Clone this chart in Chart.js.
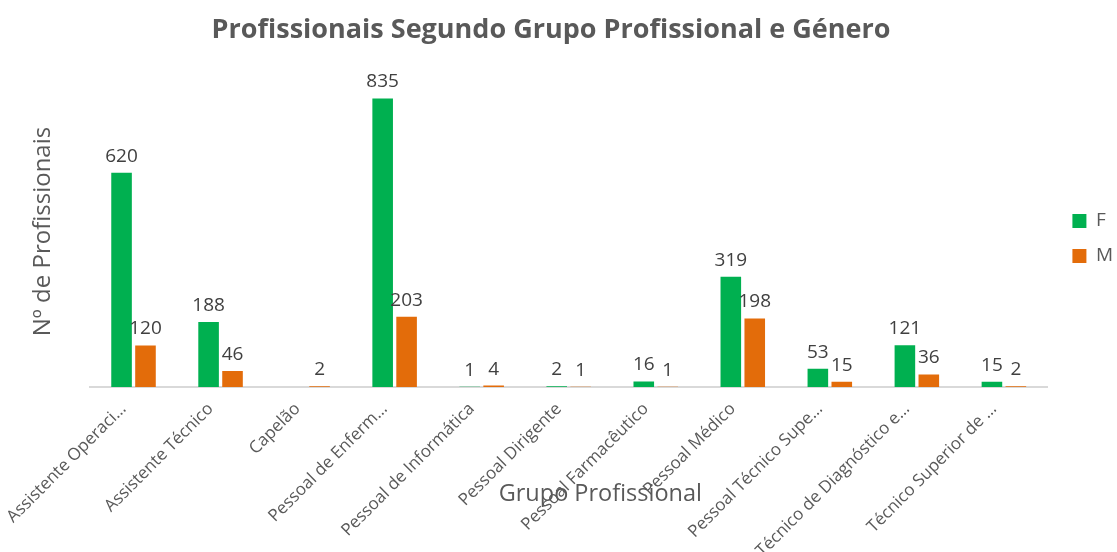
<!DOCTYPE html>
<html>
<head>
<meta charset="utf-8">
<script src="https://cdn.jsdelivr.net/npm/chart.js@4/dist/chart.umd.min.js"></script>
<style>
html,body{margin:0;padding:0;background:#fff;}
#wrap{width:1117px;height:552px;}
</style>
</head>
<body>
<div id="wrap"><canvas id="c" width="1117" height="552"></canvas></div>
<script>
const categories = ["Assistente Operaci…","Assistente Técnico","Capelão","Pessoal de Enferm…","Pessoal de Informática","Pessoal Dirigente","Pessoal Farmacêutico","Pessoal Médico","Pessoal Técnico Supe…","Técnico de Diagnóstico e…","Técnico Superior de …"];
const valuesF = [620,188,null,835,1,2,16,319,53,121,15];
const valuesM = [120,46,2,203,4,1,1,198,15,36,2];
const seriesNames = ["F","M"];
const yMax = 900;
const chartTitle = "Profissionais Segundo Grupo Profissional e Género";
const xAxisTitle = "Grupo Profissional";
const yAxisTitle = "Nº de Profissionais";

const FONT = "'Open Sans', 'DejaVu Sans', sans-serif";
const GREY = "#595959";

const dataLabels = {
  id: 'dataLabels',
  afterDatasetsDraw(chart){
    const ctx = chart.ctx;
    ctx.save();
    ctx.font = "19px " + FONT;
    ctx.fillStyle = "#404040";
    ctx.textAlign = "center";
    ctx.textBaseline = "bottom";
    chart.data.datasets.forEach((ds, i) => {
      const meta = chart.getDatasetMeta(i);
      meta.data.forEach((bar, j) => {
        const v = ds.data[j];
        if (v === null || v === undefined) return;
        ctx.fillText(String(v), bar.x, bar.y - 7);
      });
    });
    ctx.restore();
  }
};

const texts = {
  id: 'texts',
  afterDraw(chart){
    const ctx = chart.ctx;
    const ca = chart.chartArea;
    ctx.save();
    ctx.fillStyle = GREY;
    ctx.textAlign = "center";
    ctx.textBaseline = "middle";
    ctx.font = "bold 27px " + FONT;
    ctx.fillText(chartTitle, 551, 30);
    ctx.font = "23.5px " + FONT;
    ctx.fillText(xAxisTitle, ca.left + (ca.right - ca.left) * 0.533, 494);
    ctx.restore();
  }
};

const legendShift = {
  id: 'legendShift',
  afterLayout(chart){
    const lg = chart.legend;
    if (!lg) return;
    lg.left += 9; lg.right += 9;
    lg.top += 7; lg.bottom += 7;
  }
};

new Chart(document.getElementById('c'), {
  type: 'bar',
  data: {
    labels: categories,
    datasets: [
      {label: seriesNames[0], data: valuesF, backgroundColor: "#00B050", barPercentage: 0.86, categoryPercentage: 0.55},
      {label: seriesNames[1], data: valuesM, backgroundColor: "#E36C0A", barPercentage: 0.86, categoryPercentage: 0.55}
    ]
  },
  options: {
    responsive: false,
    animation: false,
    devicePixelRatio: 1,
    layout: {padding: {left: 25, right: 3, top: 76, bottom: 0}},
    plugins: {
      title: {display: false},
      legend: {
        position: 'right',
        fullSize: false,
        labels: {
          color: GREY,
          font: {family: FONT, size: 19},
          boxWidth: 14, boxHeight: 14,
          padding: 16
        }
      },
      tooltip: {enabled: false}
    },
    scales: {
      x: {
        grid: {display: false},
        border: {display: true, color: "#D9D9D9", width: 2},
        ticks: {
          color: GREY,
          font: {family: FONT, size: 17},
          maxRotation: 45, minRotation: 45,
          autoSkip: false,
          padding: 4,
          labelOffset: -10
        },
        afterFit(scale){ scale.height = 165; }
      },
      y: {
        min: 0, max: yMax,
        grid: {display: false},
        border: {display: false},
        ticks: {display: false},
        title: {
          display: true,
          text: yAxisTitle,
          color: GREY,
          font: {family: FONT, size: 24},
          padding: {top: 4, bottom: 4}
        },
        afterFit(scale){ scale.width = 65; }
      }
    }
  },
  plugins: [legendShift, dataLabels, texts]
});
</script>
</body>
</html>
